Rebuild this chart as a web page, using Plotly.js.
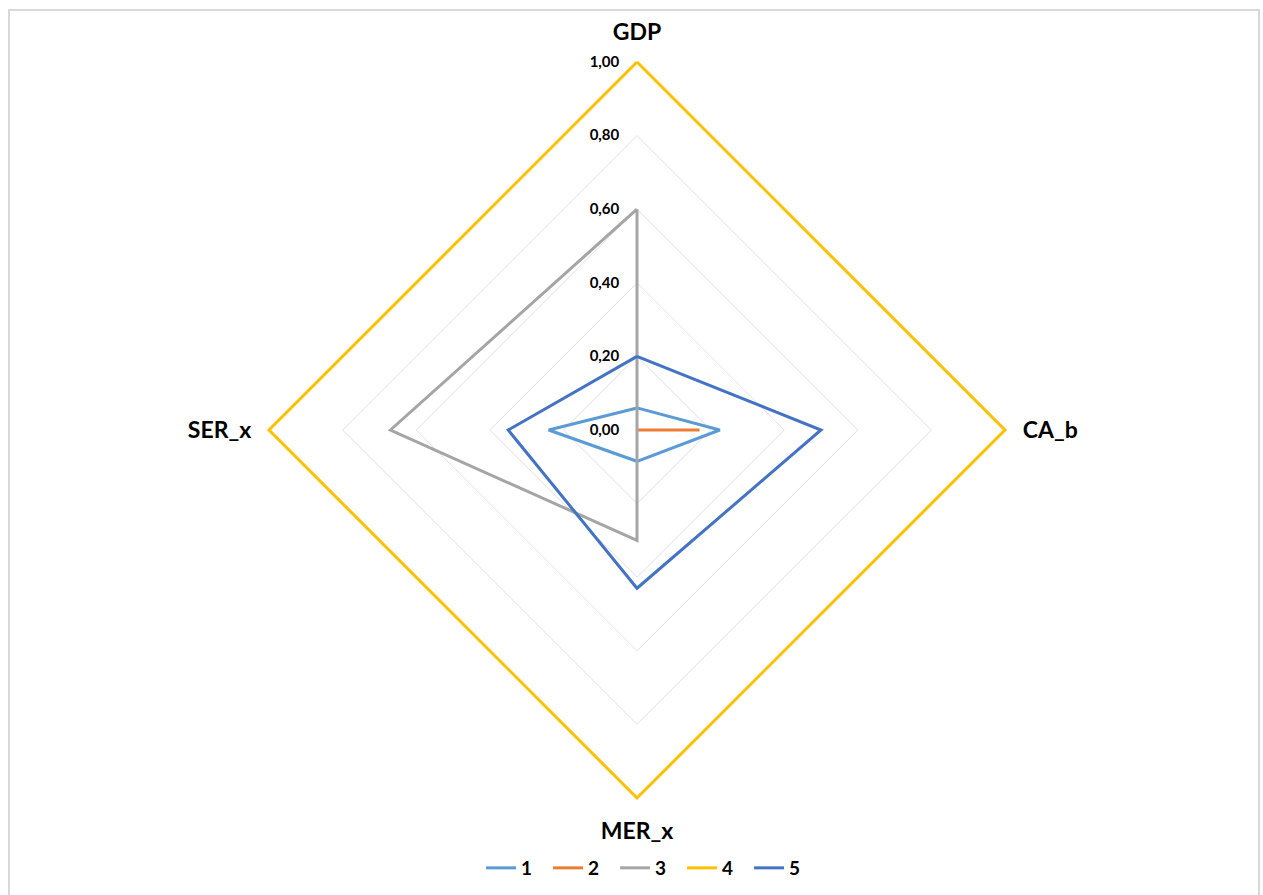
<!DOCTYPE html>
<html>
<head>
<meta charset="utf-8">
<script src="https://cdn.plot.ly/plotly-3.0.1.min.js"></script>
<style>
html,body{margin:0;padding:0;background:#fff;overflow:hidden;}
#frame{position:absolute;left:8px;top:9px;width:1252px;height:900px;border:2px solid #d9d9d9;box-sizing:border-box;}
#chart{position:absolute;left:0;top:0;width:1263px;height:895px;}
</style>
</head>
<body>
<div id="frame"></div>
<div id="chart"></div>
<script>
const categories = ['GDP', 'CA_b', 'MER_x', 'SER_x'];
const seriesNames = ['1', '2', '3', '4', '5'];
const s1 = [0.06, 0.225, 0.085, 0.24];
const s2 = [0.00, 0.17, 0.00, 0.00];
const s3 = [0.60, 0.00, 0.30, 0.67];
const s4 = [1.00, 1.00, 1.00, 1.00];
const s5 = [0.20, 0.50, 0.43, 0.35];
const radialTicks = [0, 0.2, 0.4, 0.6, 0.8, 1.0];

const seriesValues = [s1, s2, s3, s4, s5];
const colors = ['#5B9BD5', '#ED7D31', '#A5A5A5', '#FFC000', '#4472C4'];
const FONT = 'Lato, "Open Sans", "Liberation Sans", sans-serif';

const traces = seriesValues.map((vals, i) => ({
  type: 'scatterpolar',
  mode: 'lines',
  name: seriesNames[i],
  r: vals.concat([vals[0]]),
  theta: categories.concat([categories[0]]),
  line: {color: colors[i], width: 3},
  cliponaxis: false,
  hoverinfo: 'name+r+theta'
}));

const RMAX = 1.01;
const W = 1263, H = 895, cx = 637, cy = 430, R = 368 * RMAX;
const layout = {
  width: W, height: H,
  margin: {l: 0, r: 0, t: 0, b: 0},
  paper_bgcolor: 'rgba(0,0,0,0)',
  plot_bgcolor: 'rgba(0,0,0,0)',
  separators: ',.',
  font: {family: FONT, color: '#000'},
  showlegend: true,
  legend: {
    orientation: 'h',
    x: 0.5135, xanchor: 'center',
    y: (H - 868) / H, yanchor: 'middle',
    font: {size: 19, family: FONT, weight: 'bold', color: '#000'},
    entrywidth: 22, entrywidthmode: 'pixels',
    itemwidth: 30
  },
  polar: {
    domain: {x: [(cx - R) / W, (cx + R) / W], y: [(H - cy - R) / H, (H - cy + R) / H]},
    bgcolor: 'rgba(0,0,0,0)',
    gridshape: 'linear',
    radialaxis: {
      range: [0, RMAX],
      tickvals: radialTicks,
      tickformat: '.2f',
      angle: 90,
      tickangle: 90,
      side: 'counterclockwise',
      showline: false,
      ticks: 'outside',
      ticklen: 12,
      tickcolor: 'rgba(0,0,0,0)',
      gridcolor: '#e0e0e0',
      gridwidth: 1,
      tickfont: {size: 15, family: FONT, weight: 'bold', color: '#000'}
    },
    angularaxis: {
      rotation: 90,
      direction: 'clockwise',
      showline: false,
      showgrid: false,
      ticks: 'outside',
      ticklen: 9,
      tickcolor: 'rgba(0,0,0,0)',
      tickfont: {size: 23, family: FONT, weight: 'bold', color: '#000'}
    }
  }
};

Plotly.newPlot('chart', traces, layout, {displayModeBar: false});
</script>
</body>
</html>
